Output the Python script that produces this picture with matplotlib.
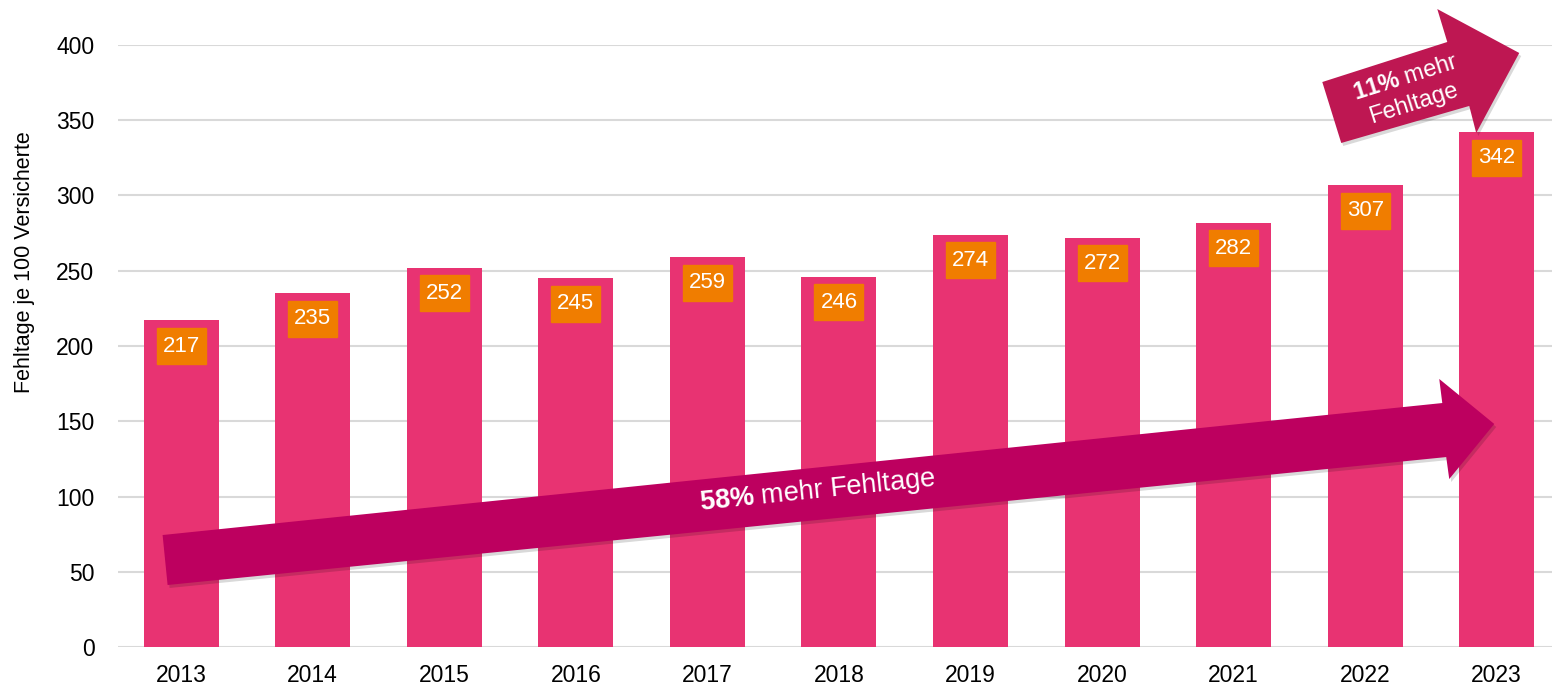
import matplotlib
matplotlib.use("Agg")
import matplotlib.pyplot as plt
from matplotlib.patches import Polygon, Rectangle
from matplotlib import transforms

years = ["2013", "2014", "2015", "2016", "2017", "2018", "2019", "2020", "2021", "2022", "2023"]
fehltage = [217, 235, 252, 245, 259, 246, 274, 272, 282, 307, 342]
yticks = [0, 50, 100, 150, 200, 250, 300, 350, 400]

bar_color = "#E83372"
box_color = "#F07D00"
big_arrow_color = "#BD005F"
small_arrow_color = "#BE1752"

plt.rcParams["font.family"] = ["Liberation Sans", "DejaVu Sans"]
plt.rcParams["mathtext.fontset"] = "custom"
plt.rcParams["mathtext.bf"] = "Liberation Sans:bold"
plt.rcParams["mathtext.rm"] = "Liberation Sans"

fig = plt.figure(figsize=(15.52, 6.87), dpi=100)
ax = fig.add_axes([118 / 1552, 40 / 687, 1434 / 1552, 602 / 687])

x = list(range(len(years)))
ax.bar(x, fehltage, width=0.57, color=bar_color, zorder=2)

ax.set_xlim(-0.48, 10.42)
ax.set_ylim(0, 400)
ax.set_yticks(yticks)
ax.set_xticks(x)
ax.set_xticklabels(years)
ax.tick_params(axis="both", length=0, labelsize=16.5, colors="black")
ax.tick_params(axis="y", pad=17)
ax.tick_params(axis="x", pad=12)
ax.grid(axis="y", color="#D9D9D9", linewidth=1.5, zorder=0)
for s in ax.spines.values():
    s.set_visible(False)

ax.set_ylabel("Fehltage je 100 Versicherte", fontsize=15.5)
ax.yaxis.set_label_coords(-0.058, 0.64)

# orange value boxes just below the top of each bar
bw, bh, gap = 0.372, 23.9, 5.1
for i, v in enumerate(fehltage):
    ax.add_patch(Rectangle((i - bw / 2, v - gap - bh), bw, bh, color=box_color, zorder=3))
    ax.text(i, v - gap - bh / 2, str(v), ha="center", va="center", color="white",
            fontsize=16, zorder=4)

# arrows
shadow = transforms.offset_copy(ax.transData, fig=fig, x=2, y=-3, units="dots")
big_arrow = [(-0.141, 74.4), (9.586, 162.1), (9.563, 178.1), (9.981, 148.2),
             (9.639, 111.6), (9.616, 126.2), (-0.103, 41.2)]
small_arrow = [(8.674, 375.4), (9.624, 402.0), (9.548, 423.9), (10.171, 394.7),
               (9.844, 341.5), (9.791, 359.5), (8.818, 334.9)]
for pts, col in [(big_arrow, big_arrow_color), (small_arrow, small_arrow_color)]:
    ax.add_patch(Polygon(pts, closed=True, color="#000000", alpha=0.15, lw=0,
                         transform=shadow, zorder=5, clip_on=False))
    ax.add_patch(Polygon(pts, closed=True, color=col, lw=0, zorder=6, clip_on=False))

ax.text(4.84, 104, r"$\mathbf{58\%}$ mehr Fehltage", rotation=5.9, rotation_mode="anchor",
        ha="center", va="center", color="white", fontsize=19.5, zorder=7)
ax.text(9.34, 369.4, "$\\mathbf{11\\%}$ mehr\nFehltage", rotation=17.5, rotation_mode="anchor",
        ha="center", va="center", multialignment="center", color="white", fontsize=17,
        linespacing=1.3, zorder=7, clip_on=False)

fig.savefig("out.png", dpi=100)
